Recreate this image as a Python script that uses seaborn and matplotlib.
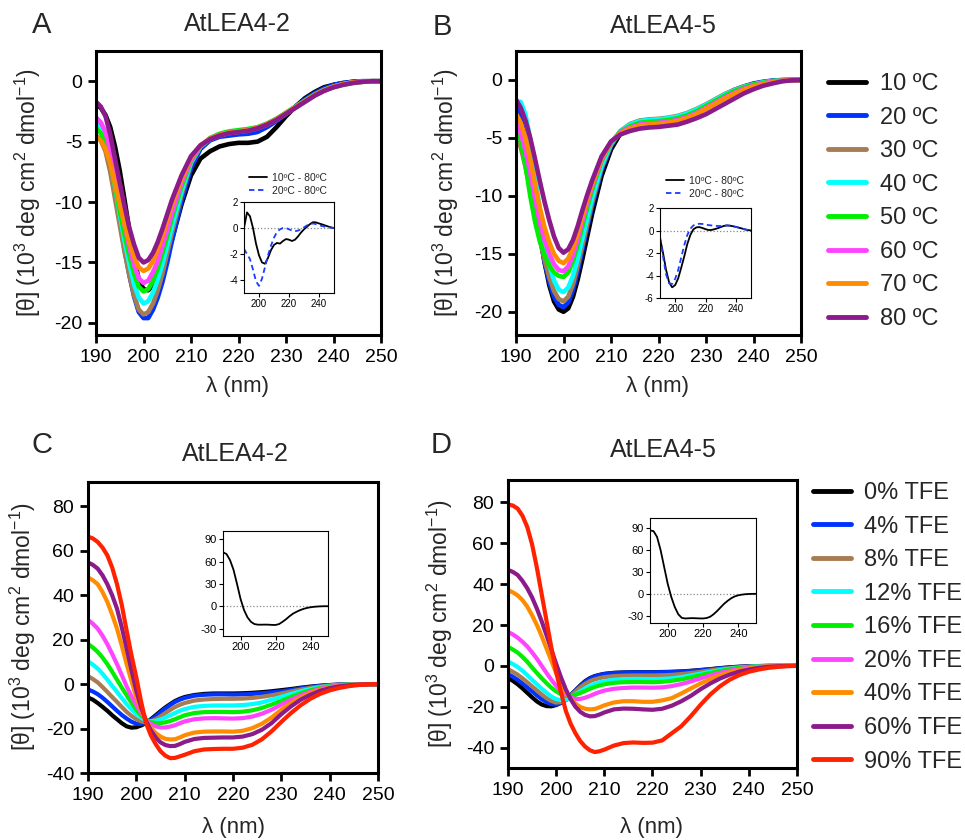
import numpy as np
import pandas as pd
import matplotlib
matplotlib.use("Agg")
import matplotlib.pyplot as plt
import seaborn as sns
from matplotlib.lines import Line2D

# wavelength grids (nm)
WL_T = [190, 191, 192, 193, 194, 195, 196, 197, 198, 199, 200, 201, 202, 203, 204, 205, 206,
        208, 210, 212, 214, 216, 218, 220, 222, 224, 226, 228, 230, 232, 234, 236, 238, 240,
        242, 244, 246, 248, 250]
WL_S = [190, 191, 192, 193, 194, 195, 196, 197, 198, 199, 200, 201, 202, 203, 204, 205, 206, 207, 208, 209, 210,
        212, 214, 216, 218, 220, 222, 224, 226, 228, 230, 232, 234, 236, 238, 240, 242, 244, 246, 248, 250]
WL_I = list(range(190, 251, 2))

# --- A: AtLEA4-2, temperature series ---
A10 = [-1.9, -2.2, -2.8, -3.8, -5.4, -7.4, -9.8, -12.3, -14.6, -16.4, -17.2, -17.3, -16.9, -16.3, -15.4, -14.3, -13.1,
       -10.2, -7.8, -6.4, -5.8, -5.4, -5.2, -5.1, -5.1, -5.0, -4.6, -3.8, -2.9, -2.1, -1.4, -0.9, -0.5, -0.3, -0.15, -0.05, 0, 0, 0]
A20 = [-3.3, -3.8, -4.8, -6.6, -9.0, -11.5, -13.9, -16.0, -17.8, -19.1, -19.6, -19.6, -18.9, -17.9, -16.6, -15.0, -13.2,
       -9.9, -7.2, -5.6, -4.9, -4.6, -4.5, -4.4, -4.35, -4.2, -3.8, -3.3, -2.7, -2.1, -1.5, -1.0, -0.6, -0.3, -0.15, -0.05, 0, 0, 0]
A30 = [-4.5, -4.9, -5.8, -7.5, -9.7, -11.9, -14.1, -16.0, -17.7, -18.9, -19.3, -19.1, -18.4, -17.3, -15.9, -14.2, -12.5,
       -9.4, -6.8, -5.4, -4.8, -4.5, -4.3, -4.2, -4.1, -3.9, -3.6, -3.2, -2.7, -2.2, -1.7, -1.2, -0.8, -0.5, -0.3, -0.15, -0.05, 0, 0]
A40 = [-3.5, -4.0, -4.8, -6.5, -8.7, -11.0, -13.2, -15.1, -16.8, -17.9, -18.4, -18.2, -17.5, -16.4, -15.1, -13.6, -12.0,
       -9.1, -6.7, -5.4, -4.75, -4.45, -4.25, -4.15, -4.05, -3.85, -3.55, -3.15, -2.65, -2.15, -1.65, -1.15, -0.75, -0.45, -0.25, -0.1, -0.05, 0, 0]
A50 = [-3.9, -4.3, -5.1, -6.6, -8.6, -10.7, -12.7, -14.4, -15.9, -17.0, -17.4, -17.2, -16.5, -15.5, -14.2, -12.8, -11.3,
       -8.7, -6.6, -5.4, -4.7, -4.35, -4.15, -4.05, -3.95, -3.8, -3.5, -3.1, -2.6, -2.1, -1.6, -1.1, -0.7, -0.45, -0.25, -0.1, -0.05, 0, 0]
A60 = [-3.0, -3.4, -4.2, -5.7, -7.8, -9.9, -11.9, -13.7, -15.2, -16.3, -16.7, -16.5, -15.8, -14.9, -13.6, -12.3, -10.9,
       -8.4, -6.5, -5.35, -4.75, -4.45, -4.25, -4.15, -4.05, -3.85, -3.55, -3.15, -2.65, -2.15, -1.65, -1.15, -0.75, -0.45, -0.25, -0.1, -0.05, 0, 0]
A70 = [-4.6, -4.9, -5.6, -6.8, -8.5, -10.2, -11.8, -13.3, -14.5, -15.4, -15.7, -15.5, -14.9, -13.9, -12.8, -11.5, -10.2,
       -8.1, -6.3, -5.3, -4.75, -4.45, -4.25, -4.15, -4.05, -3.85, -3.55, -3.15, -2.65, -2.15, -1.65, -1.15, -0.75, -0.45, -0.25, -0.1, -0.05, 0, 0]
A80 = [-1.7, -2.1, -2.9, -4.4, -6.4, -8.4, -10.3, -12.1, -13.5, -14.6, -15.0, -14.8, -14.2, -13.3, -12.2, -11.0, -9.8,
       -7.8, -6.2, -5.3, -4.8, -4.5, -4.3, -4.2, -4.1, -3.9, -3.6, -3.2, -2.7, -2.2, -1.7, -1.2, -0.8, -0.5, -0.3, -0.15, -0.05, 0, 0]

# --- B: AtLEA4-5, temperature series ---
B10 = [-3.0, -4.0, -5.6, -7.8, -10.3, -13.2, -15.7, -17.7, -19.1, -19.8, -20.0, -19.7, -18.7, -17.2, -15.4, -13.5, -11.6,
       -8.3, -6.0, -4.6, -3.95, -3.65, -3.55, -3.5, -3.4, -3.25, -3.0, -2.65, -2.2, -1.75, -1.3, -0.9, -0.6, -0.35, -0.2, -0.08, -0.02, 0, 0]
B20 = [-2.2, -3.3, -5.0, -7.5, -10.6, -13.4, -15.7, -17.4, -18.7, -19.4, -19.6, -19.2, -18.1, -16.5, -14.6, -12.7, -10.9,
       -7.8, -5.7, -4.45, -3.85, -3.55, -3.45, -3.45, -3.35, -3.2, -2.95, -2.6, -2.15, -1.7, -1.25, -0.85, -0.55, -0.3, -0.15, -0.05, 0, 0, 0]
B30 = [-4.8, -5.8, -7.5, -9.4, -11.6, -13.7, -15.5, -17.0, -18.2, -18.9, -19.1, -18.7, -17.6, -16.0, -14.2, -12.4, -10.6,
       -7.6, -5.6, -4.4, -3.8, -3.5, -3.4, -3.35, -3.25, -3.1, -2.85, -2.5, -2.1, -1.65, -1.2, -0.85, -0.55, -0.35, -0.2, -0.1, -0.03, 0, 0]
B40 = [-1.8, -1.9, -3.0, -5.1, -8.1, -11.2, -13.9, -15.9, -17.3, -18.1, -18.3, -17.9, -16.9, -15.4, -13.6, -11.9, -10.2,
       -7.4, -5.5, -4.4, -3.85, -3.55, -3.45, -3.4, -3.3, -3.15, -2.9, -2.55, -2.15, -1.7, -1.25, -0.9, -0.6, -0.4, -0.2, -0.1, -0.03, 0, 0]
B50 = [-4.1, -5.3, -7.4, -10.0, -12.2, -13.9, -15.1, -16.0, -16.6, -16.9, -17.0, -16.6, -15.6, -14.2, -12.6, -11.0, -9.5,
       -7.0, -5.4, -4.45, -4.0, -3.7, -3.6, -3.55, -3.45, -3.3, -3.05, -2.7, -2.25, -1.8, -1.35, -0.95, -0.65, -0.4, -0.25, -0.1, -0.04, 0, 0]
B60 = [-3.7, -4.6, -6.1, -8.0, -10.2, -12.2, -13.8, -15.0, -15.9, -16.4, -16.5, -16.1, -15.1, -13.7, -12.1, -10.6, -9.2,
       -6.9, -5.35, -4.5, -4.1, -3.85, -3.75, -3.7, -3.6, -3.45, -3.2, -2.85, -2.4, -1.95, -1.5, -1.1, -0.75, -0.5, -0.3, -0.15, -0.05, 0, 0]
B70 = [-2.9, -3.7, -5.0, -6.8, -9.0, -11.0, -12.7, -14.0, -15.0, -15.6, -15.8, -15.4, -14.5, -13.2, -11.7, -10.3, -9.0,
       -6.8, -5.35, -4.6, -4.2, -3.95, -3.85, -3.8, -3.7, -3.55, -3.3, -2.95, -2.5, -2.05, -1.6, -1.2, -0.85, -0.55, -0.35, -0.2, -0.08, -0.02, 0]
B80 = [-1.7, -2.4, -3.5, -5.0, -6.8, -8.7, -10.5, -12.1, -13.5, -14.5, -14.9, -14.6, -13.8, -12.6, -11.2, -9.9, -8.7,
       -6.6, -5.3, -4.7, -4.4, -4.2, -4.1, -4.05, -3.95, -3.85, -3.6, -3.3, -2.95, -2.5, -2.05, -1.6, -1.15, -0.8, -0.5, -0.3, -0.12, -0.03, 0]

# --- C: AtLEA4-2, TFE series ---
C0 = [-6.0, -7.0, -8.5, -10.2, -12.0, -14.0, -15.8, -17.6, -19.0, -19.6, -19.4, -18.6, -17.5, -15.8, -14.0, -12.2, -10.5, -9.0, -7.6, -6.6, -5.8,
      -4.9, -4.4, -4.2, -4.2, -4.2, -4.1, -3.9, -3.6, -3.2, -2.7, -2.2, -1.6, -1.1, -0.7, -0.4, -0.2, -0.05, 0, 0, 0]
C4 = [-2.4, -3.3, -4.5, -6.1, -8.0, -10.0, -12.0, -13.9, -15.5, -16.9, -17.8, -17.9, -17.5, -16.2, -14.5, -12.7, -11.0, -9.4, -8.0, -7.0, -6.2,
      -5.2, -4.8, -4.6, -4.6, -4.7, -4.6, -4.4, -4.1, -3.7, -3.2, -2.6, -1.9, -1.3, -0.8, -0.45, -0.2, -0.1, 0, 0, 0]
C8 = [3.6, 2.3, 0.8, -1.3, -3.5, -5.8, -8.0, -10.3, -12.5, -14.3, -15.8, -16.8, -17.2, -16.7, -15.8, -14.5, -13.0, -11.6, -10.3, -9.3, -8.5,
      -7.4, -6.9, -6.7, -6.6, -6.6, -6.5, -6.2, -5.7, -5.0, -4.2, -3.3, -2.4, -1.7, -1.1, -0.6, -0.3, -0.1, 0, 0, 0]
C12 = [10.2, 8.8, 7.0, 4.7, 2.0, -0.8, -3.5, -6.3, -9.0, -11.4, -13.5, -15.1, -16.3, -16.7, -16.5, -15.9, -15.0, -14.0, -13.0, -12.0, -11.2,
       -10.2, -9.8, -9.6, -9.6, -9.6, -9.4, -9.0, -8.2, -7.0, -5.7, -4.4, -3.2, -2.2, -1.4, -0.8, -0.4, -0.2, -0.05, 0, 0]
C16 = [18.1, 16.5, 14.5, 12.0, 9.0, 5.6, 2.0, -1.6, -5.0, -8.4, -11.5, -14.0, -16.0, -17.1, -17.5, -17.5, -17.2, -16.6, -15.8, -14.9, -14.0,
       -13.0, -12.6, -12.5, -12.5, -12.6, -12.4, -11.8, -10.7, -9.2, -7.5, -5.7, -4.1, -2.8, -1.7, -1.0, -0.5, -0.2, -0.1, 0, 0]
C20 = [28.9, 27.2, 25.0, 21.8, 18.0, 13.6, 9.0, 4.0, -1.0, -5.5, -9.5, -13.0, -16.0, -17.9, -19.0, -19.5, -19.5, -19.1, -18.5, -17.6, -16.8,
       -15.8, -15.4, -15.3, -15.4, -15.5, -15.3, -14.6, -13.3, -11.5, -9.2, -7.0, -5.0, -3.4, -2.1, -1.2, -0.6, -0.3, -0.1, 0, 0]
C40 = [48.0, 46.8, 45.0, 41.5, 37.0, 31.3, 25.0, 17.2, 9.0, 1.3, -6.0, -11.8, -16.5, -19.6, -22.0, -23.6, -24.6, -24.9, -24.8, -24.0, -23.0,
       -21.8, -21.4, -21.3, -21.3, -21.4, -21.0, -19.8, -17.8, -15.0, -11.5, -8.5, -6.0, -4.0, -2.5, -1.5, -0.8, -0.4, -0.15, -0.05, 0]
C60 = [54.8, 53.7, 52.0, 49.0, 45.0, 40.0, 34.0, 25.5, 16.0, 6.3, -3.0, -10.5, -16.5, -20.8, -24.0, -26.2, -27.4, -27.9, -27.8, -27.0, -26.0,
       -24.7, -24.2, -24.1, -24.0, -24.0, -23.6, -22.5, -20.5, -17.5, -13.5, -10.0, -7.0, -4.8, -3.0, -1.8, -1.0, -0.5, -0.2, -0.05, 0]
C90 = [66.4, 65.6, 64.0, 61.5, 58.0, 52.5, 45.0, 35.5, 24.0, 13.0, 3.0, -8.0, -17.5, -23.0, -27.0, -30.2, -32.2, -33.3, -33.2, -32.5, -31.8,
       -30.2, -29.4, -29.2, -29.1, -29.1, -28.6, -27.3, -24.8, -21.2, -17.0, -13.0, -9.5, -6.6, -4.4, -2.8, -1.7, -0.9, -0.4, -0.1, 0]

# --- D: AtLEA4-5, TFE series ---
D0 = [-6.0, -7.3, -9.0, -11.0, -13.2, -15.4, -17.4, -18.9, -19.7, -19.8, -19.2, -18.0, -16.5, -14.3, -12.0, -9.6, -7.5, -6.0, -5.0, -4.4, -3.9,
      -3.4, -3.2, -3.1, -3.1, -3.1, -3.0, -2.9, -2.7, -2.4, -2.0, -1.6, -1.1, -0.7, -0.4, -0.2, -0.1, 0, 0, 0, 0]
D4 = [-4.0, -5.3, -6.8, -8.6, -10.5, -12.5, -14.5, -16.3, -17.8, -18.7, -19.0, -18.2, -16.8, -14.5, -12.0, -9.8, -7.8, -6.3, -5.2, -4.5, -4.0,
      -3.5, -3.3, -3.2, -3.2, -3.2, -3.1, -3.0, -2.8, -2.5, -2.1, -1.7, -1.2, -0.8, -0.5, -0.3, -0.1, 0, 0, 0, 0]
D8 = [-1.6, -2.9, -4.3, -6.1, -8.0, -10.0, -12.0, -14.0, -15.8, -17.2, -18.0, -17.7, -16.5, -14.6, -12.5, -10.5, -8.8, -7.5, -6.6, -6.0, -5.5,
      -5.0, -4.8, -4.7, -4.7, -4.7, -4.6, -4.4, -4.0, -3.5, -2.9, -2.2, -1.6, -1.1, -0.7, -0.4, -0.2, -0.05, 0, 0, 0]
D12 = [2.2, 0.9, -0.5, -2.4, -4.5, -6.8, -9.0, -11.2, -13.2, -15.0, -16.3, -16.8, -16.5, -15.4, -14.0, -12.4, -11.0, -9.8, -8.8, -8.1, -7.5,
       -6.8, -6.5, -6.4, -6.4, -6.5, -6.4, -6.1, -5.5, -4.7, -3.8, -2.9, -2.1, -1.4, -0.9, -0.5, -0.2, -0.1, 0, 0, 0]
D16 = [9.3, 8.0, 6.5, 4.4, 2.0, -0.8, -3.5, -6.1, -8.5, -10.7, -12.5, -13.8, -14.6, -14.7, -14.2, -13.3, -12.3, -11.2, -10.3, -9.6, -9.0,
       -8.3, -8.0, -7.9, -7.9, -8.0, -7.8, -7.3, -6.6, -5.6, -4.5, -3.5, -2.5, -1.7, -1.0, -0.6, -0.3, -0.1, 0, 0, 0]
D20 = [16.6, 15.4, 13.8, 11.8, 9.5, 6.6, 3.5, 0.0, -3.5, -6.8, -9.8, -12.3, -14.2, -15.5, -16.3, -16.2, -15.6, -14.7, -13.7, -12.8, -12.1,
       -11.2, -10.8, -10.6, -10.6, -10.7, -10.5, -9.9, -8.9, -7.6, -6.1, -4.7, -3.4, -2.4, -1.5, -0.9, -0.45, -0.2, -0.05, 0, 0]
D40 = [37.0, 36.0, 34.5, 32.2, 29.0, 24.8, 20.0, 14.5, 8.5, 2.5, -3.5, -8.8, -13.0, -16.2, -18.5, -20.1, -21.0, -21.3, -21.1, -20.3, -19.3,
       -17.9, -17.3, -17.3, -17.6, -17.6, -16.9, -15.8, -13.5, -11.0, -8.6, -6.4, -4.6, -3.1, -2.0, -1.2, -0.6, -0.3, -0.1, 0, 0]
D60 = [47.0, 46.0, 44.5, 41.6, 38.0, 33.5, 28.0, 21.8, 15.0, 8.0, 1.0, -5.6, -11.5, -16.3, -20.0, -22.5, -24.0, -24.7, -24.6, -23.8, -22.8,
       -21.3, -20.9, -21.0, -21.3, -21.5, -21.0, -19.5, -17.3, -14.6, -11.4, -8.6, -6.2, -4.3, -2.8, -1.8, -1.0, -0.5, -0.2, -0.05, 0]
D90 = [79.0, 78.5, 77.0, 73.5, 68.0, 59.5, 48.0, 35.0, 22.0, 9.0, -3.0, -13.0, -22.0, -28.3, -33.0, -36.8, -39.5, -41.3, -42.2, -41.8, -41.0,
       -39.0, -37.8, -37.5, -37.7, -37.6, -36.5, -33.0, -29.5, -24.5, -19.0, -14.0, -10.0, -6.8, -4.5, -2.9, -1.8, -1.0, -0.5, -0.15, 0]

# --- insets (difference spectra / 90% TFE) ---
INS_A_10 = [0.0, 1.2, 0.9, 0.0, -1.2, -2.1, -2.65, -2.75, -2.3, -1.7, -1.3, -1.15, -1.2, -1.0, -0.85, -0.9,
            -1.0, -0.9, -0.65, -0.35, -0.1, 0.1, 0.3, 0.45, 0.43, 0.35, 0.28, 0.2, 0.12, 0.05, 0.0]
INS_A_20 = [-1.6, -2.0, -2.4, -3.2, -4.1, -4.45, -3.9, -3.0, -2.1, -1.35, -0.75, -0.3, -0.1, 0.0, 0.0, -0.1,
            -0.2, -0.25, -0.2, -0.1, 0.05, 0.2, 0.3, 0.35, 0.3, 0.22, 0.15, 0.1, 0.05, 0.02, 0.0]
INS_B_10 = [-0.65, -2.0, -3.5, -4.6, -5.05, -4.85, -4.25, -3.3, -2.3, -1.2, -0.4, 0.1, 0.28, 0.3, 0.22, 0.12,
            0.04, 0.05, 0.12, 0.2, 0.3, 0.4, 0.45, 0.43, 0.38, 0.32, 0.25, 0.18, 0.1, 0.04, 0.0]
INS_B_20 = [-0.65, -2.3, -3.9, -4.7, -4.75, -4.3, -3.5, -2.4, -1.3, -0.4, 0.15, 0.45, 0.55, 0.6, 0.58, 0.52,
            0.48, 0.45, 0.42, 0.4, 0.4, 0.43, 0.45, 0.43, 0.38, 0.32, 0.25, 0.18, 0.1, 0.04, 0.0]
INS_C = [72.5, 70.0, 62.0, 49.0, 30.0, 10.0, -5.0, -15.0, -21.0, -24.0, -24.8, -24.8, -24.7, -24.8, -25.1, -25.2,
         -24.0, -21.0, -17.5, -13.5, -10.0, -7.5, -5.3, -3.6, -2.3, -1.4, -0.8, -0.4, -0.15, 0.0, 0.0]
INS_D = [87.0, 86.0, 78.0, 60.0, 37.0, 14.0, -4.0, -18.0, -28.0, -33.0, -33.8, -33.5, -33.3, -33.5, -33.7, -33.8,
         -33.2, -31.5, -28.0, -23.5, -18.5, -13.5, -9.5, -6.0, -3.5, -2.0, -1.1, -0.5, -0.2, -0.05, 0.0]

TEMP_LABELS = ['10 ºC', '20 ºC', '30 ºC', '40 ºC', '50 ºC', '60 ºC', '70 ºC', '80 ºC']
TFE_LABELS = ['0% TFE', '4% TFE', '8% TFE', '12% TFE', '16% TFE', '20% TFE', '40% TFE', '60% TFE', '90% TFE']
DIFF_LABELS = ['10ºC - 80ºC', '20ºC - 80ºC']

COLORS_T = ['#000000', '#0033ff', '#a67c52', '#00ffff', '#00ee00', '#ff44ff', '#ff8c00', '#8b1a8b']
COLORS_S = COLORS_T + ['#ff2200']

sns.set_style('ticks')
plt.rcParams['font.family'] = ['Liberation Sans', 'DejaVu Sans']
plt.rcParams['mathtext.fontset'] = 'custom'
plt.rcParams['mathtext.rm'] = 'Liberation Sans'
plt.rcParams['mathtext.it'] = 'Liberation Sans:italic'
plt.rcParams['axes.unicode_minus'] = False

W, H = 965, 840
fig = plt.figure(figsize=(W / 100, H / 100), dpi=100)


def box(l, t, r, b):
    # pixel rectangle -> figure fraction
    return [l / W, 1 - b / H, (r - l) / W, (b - t) / H]


def long_df(wl, series, labels):
    return pd.DataFrame({
        'wl': np.tile(wl, len(series)),
        'theta': np.concatenate([np.asarray(s, float) for s in series]),
        'cond': np.repeat(labels, len(wl)),
    })


def main_panel(rect, wl, series, labels, colors, ylim, yticks, lw):
    ax = fig.add_axes(box(*rect))
    df = long_df(wl, series, labels)
    sns.lineplot(data=df, x='wl', y='theta', hue='cond', hue_order=labels,
                 palette=colors, estimator=None, linewidth=lw, legend=False,
                 ax=ax, solid_joinstyle='round', solid_capstyle='round')
    ax.set_xlim(190, 250)
    ax.set_ylim(*ylim)
    ax.set_xticks(range(190, 251, 10))
    ax.set_yticks(yticks)
    ax.set_xlabel('')
    ax.set_ylabel('')
    for s in ax.spines.values():
        s.set_linewidth(2.2)
        s.set_color('black')
    ax.tick_params(direction='out', length=6, width=2, labelsize=14, pad=4, colors='black')
    return ax


def inset_panel(rect, ylim, yticks, lsize):
    ax = fig.add_axes(box(*rect))
    ax.axhline(0, color='#888888', ls=':', lw=0.9, zorder=0)
    ax.set_xlim(190, 250)
    ax.set_ylim(*ylim)
    ax.set_xticks([200, 220, 240])
    ax.set_yticks(yticks)
    for s in ax.spines.values():
        s.set_linewidth(0.8)
        s.set_color('black')
    ax.tick_params(direction='out', length=3, width=0.8, labelsize=lsize, pad=1.5, colors='black')
    return ax


ylab = r'[θ] (10$^{3}$ deg cm$^{2}$ dmol$^{-1}$)'
DASH = (0, (3, 2))

# ---- panel A ----
main_panel((96, 51, 381, 335), WL_T, [A10, A20, A30, A40, A50, A60, A70, A80],
           TEMP_LABELS, COLORS_T, (-21, 2.5), [0, -5, -10, -15, -20], 3.3)
ia = inset_panel((244, 202, 334, 293), (-5, 2), [2, 0, -2, -4], 7)
sns.lineplot(x=WL_I, y=INS_A_10, color='black', lw=1.3, ax=ia)
sns.lineplot(x=WL_I, y=INS_A_20, color='#1a3cff', lw=1.3, ls=DASH, ax=ia)
ia.set_xlabel(''); ia.set_ylabel('')

# ---- panel B ----
main_panel((516, 51, 801, 335), WL_T, [B10, B20, B30, B40, B50, B60, B70, B80],
           TEMP_LABELS, COLORS_T, (-22, 2.5), [0, -5, -10, -15, -20], 3.3)
ib = inset_panel((660, 208, 751, 298), (-6, 2), [2, 0, -2, -4, -6], 7)
sns.lineplot(x=WL_I, y=INS_B_10, color='black', lw=1.3, ax=ib)
sns.lineplot(x=WL_I, y=INS_B_20, color='#1a3cff', lw=1.3, ls=DASH, ax=ib)
ib.set_xlabel(''); ib.set_ylabel('')

# ---- panel C ----
main_panel((88, 482, 378, 773), WL_S, [C0, C4, C8, C12, C16, C20, C40, C60, C90],
           TFE_LABELS, COLORS_S, (-40, 91), [-40, -20, 0, 20, 40, 60, 80], 3.0)
ic = inset_panel((223, 531, 328, 636), (-40, 101), [-30, 0, 30, 60, 90], 8)
sns.lineplot(x=WL_I, y=INS_C, color='black', lw=1.3, ax=ic)
ic.set_xlabel(''); ic.set_ylabel('')

# ---- panel D ----
main_panel((508, 480, 797, 768), WL_S, [D0, D4, D8, D12, D16, D20, D40, D60, D90],
           TFE_LABELS, COLORS_S, (-50, 91), [-40, -20, 0, 20, 40, 60, 80], 3.0)
idd = inset_panel((650, 518, 756, 623), (-40, 104), [-30, 0, 30, 60, 90], 8)
sns.lineplot(x=WL_I, y=INS_D, color='black', lw=1.3, ax=idd)
idd.set_xlabel(''); idd.set_ylabel('')

# ---- legends ----
diff_handles = [Line2D([], [], color='black', lw=1.3),
                Line2D([], [], color='#1a3cff', lw=1.3, ls=DASH)]
for x0, y0 in [(249, 173), (666, 176)]:
    fig.legend(diff_handles, DIFF_LABELS, loc='upper left',
               bbox_to_anchor=(x0 / W, 1 - y0 / H), frameon=False, fontsize=7.5,
               handlelength=1.7, handletextpad=0.5, labelspacing=0.25,
               borderpad=0, borderaxespad=0)

temp_handles = [Line2D([], [], color=c, lw=3.5) for c in COLORS_T]
fig.legend(temp_handles, TEMP_LABELS, loc='upper left',
           bbox_to_anchor=(828 / W, 1 - 73 / H), frameon=False, fontsize=17,
           handlelength=1.6, handletextpad=0.6, labelspacing=0.49,
           borderpad=0, borderaxespad=0)
tfe_handles = [Line2D([], [], color=c, lw=3.5) for c in COLORS_S]
fig.legend(tfe_handles, TFE_LABELS, loc='upper left',
           bbox_to_anchor=(813 / W, 1 - 482 / H), frameon=False, fontsize=17,
           handlelength=1.6, handletextpad=0.55, labelspacing=0.49,
           borderpad=0, borderaxespad=0)

# ---- text: panel letters, titles, axis labels ----
def ftext(x, y, s, **kw):
    fig.text(x / W, 1 - y / H, s, ha='center', va='center', **kw)

for (x, y, s) in [(42, 25, 'A'), (442, 27, 'B'), (42, 445, 'C'), (441, 445, 'D')]:
    ftext(x, y, s, fontsize=21)
for (x, y, s) in [(237, 24, 'AtLEA4-2'), (663, 26, 'AtLEA4-5'),
                  (235, 454, 'AtLEA4-2'), (663, 450, 'AtLEA4-5')]:
    ftext(x, y, s, fontsize=18)
for (x, y) in [(237, 387), (658, 387), (233, 828), (652, 827)]:
    ftext(x, y, 'λ (nm)', fontsize=16)
for (x, y) in [(28, 193), (446, 193), (23, 627), (440, 624)]:
    ftext(x, y, ylab, fontsize=16.5, rotation=90)

fig.savefig('out.png', dpi=100)
